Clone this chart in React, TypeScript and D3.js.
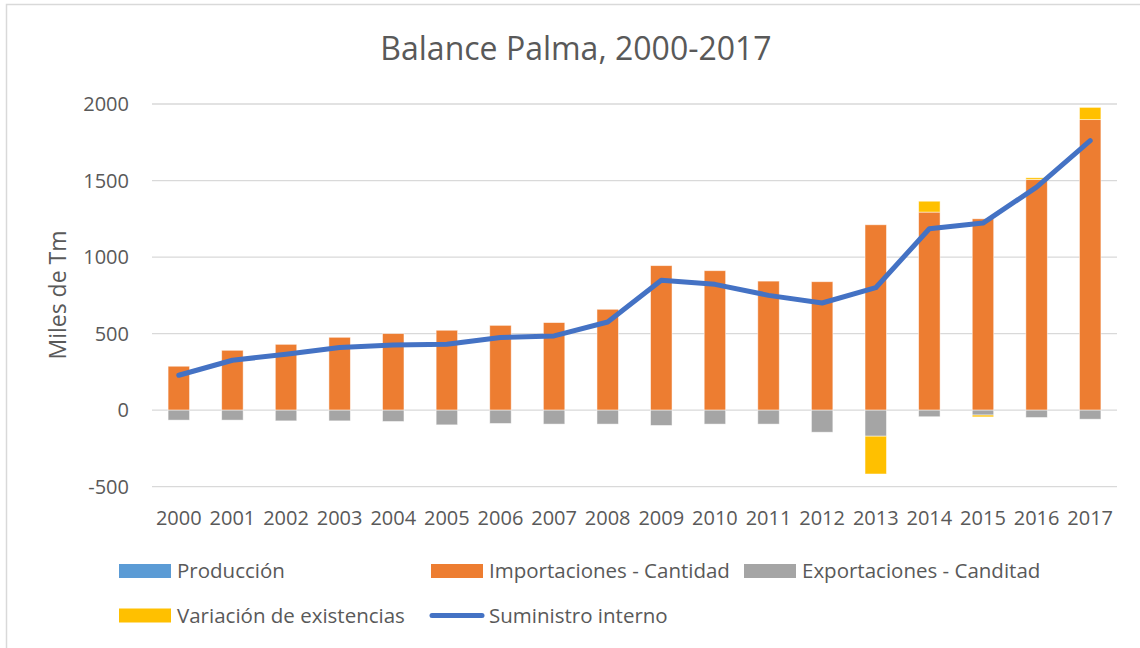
import { useEffect, useRef } from "react";
import * as d3 from "d3";

const years = ["2000", "2001", "2002", "2003", "2004", "2005", "2006", "2007", "2008",
  "2009", "2010", "2011", "2012", "2013", "2014", "2015", "2016", "2017"];
const produccion = [0, 0, 0, 0, 0, 0, 0, 0, 0, 0, 0, 0, 0, 0, 0, 0, 0, 0];
const importaciones = [287, 391, 430, 476, 500, 522, 554, 572, 659, 944, 911, 843, 839, 1211, 1294, 1250, 1507, 1898];
const exportaciones = [-65, -65, -70, -70, -74, -96, -87, -91, -91, -100, -91, -91, -144, -170, -43, -32, -48, -59];
const variacion = [0, 0, 0, 0, 0, 0, 0, 0, 0, 0, 0, 0, 0, -247, 71, -12, 11, 80];
const suministro = [228, 326, 365, 409, 426, 430, 474, 485, 576, 848, 822, 750, 700, 800, 1185, 1222, 1457, 1761];
const yTicks = [-500, 0, 500, 1000, 1500, 2000];

const seriesKeys = ["prod", "imp", "exp", "var"];
const seriesNames = ["Producción", "Importaciones - Cantidad", "Exportaciones - Canditad", "Variación de existencias"];
const seriesColors = ["#5B9BD5", "#ED7D31", "#A5A5A5", "#FFC000"];
const lineColor = "#4472C4";
const textColor = "#595959";
const font = "'Open Sans', sans-serif";

export default function App() {
  const svgRef = useRef<SVGSVGElement>(null);

  useEffect(() => {
    const svg = d3.select(svgRef.current);
    svg.selectAll("*").remove();

    const width = 1140, height = 648;
    const plot = { left: 152, right: 1117, top: 104, bottom: 486.7 };

    svg.append("rect").attr("x", 6.5).attr("y", 4.5).attr("width", width + 20).attr("height", height + 20)
      .attr("fill", "white").attr("stroke", "#D9D9D9").attr("stroke-width", 1.5);

    const x = d3.scaleBand().domain(years).range([plot.left, plot.right]).paddingInner(0.6).paddingOuter(0.3);
    const y = d3.scaleLinear().domain([-500, 2000]).range([plot.bottom, plot.top]);

    // gridlines
    svg.append("g").selectAll("line").data(yTicks).enter().append("line")
      .attr("x1", plot.left).attr("x2", plot.right)
      .attr("y1", d => y(d)).attr("y2", d => y(d))
      .attr("stroke", "#D9D9D9").attr("stroke-width", 1.3);

    // y tick labels
    svg.append("g").selectAll("text").data(yTicks).enter().append("text")
      .attr("x", 129).attr("y", d => y(d)).attr("dy", "0.35em")
      .attr("text-anchor", "end").style("font-family", font).style("font-size", "20px")
      .attr("fill", textColor).text(d => String(d));

    // x tick labels
    svg.append("g").selectAll("text").data(years).enter().append("text")
      .attr("x", d => x(d)! + x.bandwidth() / 2).attr("y", 518).attr("dy", "0.35em")
      .attr("text-anchor", "middle").style("font-family", font).style("font-size", "20px")
      .attr("fill", textColor).text(d => d);

    // stacked bars
    const rows = years.map((yr, i) => ({
      year: yr, prod: produccion[i], imp: importaciones[i], exp: exportaciones[i], var: variacion[i],
    }));
    const stack = d3.stack<any>().keys(seriesKeys).offset(d3.stackOffsetDiverging);
    const layers = stack(rows);

    layers.forEach((layer, si) => {
      svg.append("g").selectAll("rect").data(layer).enter().append("rect")
        .attr("x", d => x(d.data.year)!)
        .attr("width", x.bandwidth())
        .attr("y", d => y(Math.max(d[0], d[1])))
        .attr("height", d => Math.abs(y(d[0]) - y(d[1])))
        .attr("fill", seriesColors[si])
        .attr("stroke", d => (d[0] === d[1] ? "none" : "rgba(255,255,255,0.6)"))
        .attr("stroke-width", 0.8);
    });

    // line
    const line = d3.line<number>()
      .x((_, i) => x(years[i])! + x.bandwidth() / 2)
      .y(d => y(d));
    svg.append("path").datum(suministro).attr("d", line)
      .attr("fill", "none").attr("stroke", lineColor).attr("stroke-width", 5)
      .attr("stroke-linejoin", "round").attr("stroke-linecap", "round");

    // title
    svg.append("text").attr("x", 576).attr("y", 60).attr("text-anchor", "middle")
      .style("font-family", font).style("font-size", "32px").attr("fill", textColor)
      .text("Balance Palma, 2000-2017");

    // y axis title
    svg.append("text").attr("transform", "translate(66,295) rotate(-90)")
      .attr("text-anchor", "middle")
      .style("font-family", font).style("font-size", "23px").attr("fill", textColor)
      .text("Miles de Tm");

    // legend
    const legendItems = [
      { name: seriesNames[0], color: seriesColors[0], x: 119, y: 571, kind: "rect" },
      { name: seriesNames[1], color: seriesColors[1], x: 431, y: 571, kind: "rect" },
      { name: seriesNames[2], color: seriesColors[2], x: 744, y: 571, kind: "rect" },
      { name: seriesNames[3], color: seriesColors[3], x: 119, y: 615.5, kind: "rect" },
      { name: "Suministro interno", color: lineColor, x: 431, y: 615.5, kind: "line" },
    ];
    const lg = svg.append("g").selectAll("g").data(legendItems).enter().append("g")
      .attr("transform", d => `translate(${d.x},${d.y})`);
    lg.filter(d => d.kind === "rect").append("rect")
      .attr("x", 0).attr("y", -7).attr("width", 52).attr("height", 14).attr("fill", d => d.color);
    lg.filter(d => d.kind === "line").append("line")
      .attr("x1", 1).attr("x2", 51).attr("y1", 0).attr("y2", 0)
      .attr("stroke", d => d.color).attr("stroke-width", 5).attr("stroke-linecap", "round");
    lg.append("text").attr("x", 58).attr("y", 0).attr("dy", "0.35em")
      .style("font-family", font).style("font-size", "20.5px").attr("fill", textColor)
      .text(d => d.name);
  }, []);

  return (
    <svg ref={svgRef} width={1140} height={648}
      style={{ position: "absolute", left: 0, top: 0, display: "block" }} />
  );
}
